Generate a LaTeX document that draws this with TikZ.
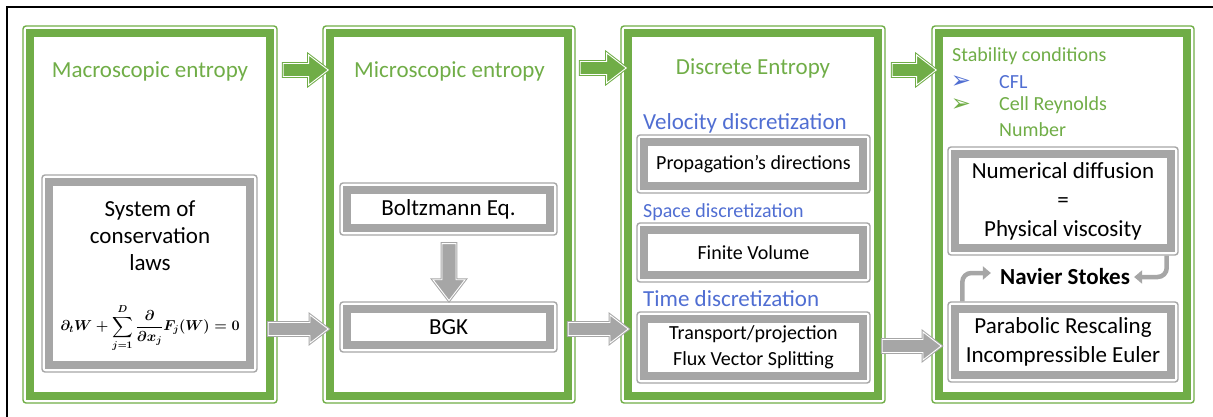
\documentclass[tikz,border=0pt]{standalone}
\usepackage{exscale}
\usepackage{fontspec}
\setmainfont{Carlito}
\newfontfamily\dejavu{DejaVu Sans}
\usetikzlibrary{calc,shapes.arrows,arrows.meta}
\definecolor{gr}{HTML}{70AD47}
\definecolor{gy}{HTML}{A6A6A6}
\definecolor{bl}{RGB}{80,110,210}
\newcommand\bandbox[4]{\draw[line width=#3,draw=#4] ($(#1.north west)+(#2,#2)$) rectangle ($(#1.south east)+(-#2,-#2)$);}
\newcommand\eqnfml{\mbox{\boldmath$\displaystyle \partial_t W+\sum_{j=1}^{D}\frac{\partial}{\partial x_j}F_j(W)=0$}}
\begin{document}
\begin{tikzpicture}[x=1pt,y=-1pt,
  panel/.style={draw=gr, line width=1.4pt, rounded corners=3pt, inner sep=0pt},
  gbox/.style={draw=gy, line width=1.4pt, rounded corners=3pt, inner sep=0pt, align=center, font=\fontsize{20}{26}\selectfont},
  bigbox/.style={gbox, font=\fontsize{23}{29}\selectfont},
  ttl/.style={text=gr, font=\fontsize{23}{28}\selectfont, inner sep=0pt},
  subt/.style={text=bl, anchor=west, inner sep=0pt},
  body/.style={font=\fontsize{23}{27}\selectfont, align=center, inner sep=0pt},
  blk/.style={single arrow, single arrow head indent=0pt, single arrow tip angle=75, line width=1pt, double=white, double distance=0.9pt},
  garw/.style={blk, fill=gr, draw=gr, inner xsep=0pt, inner ysep=6pt},
  yarw/.style={blk, fill=gy, draw=gy, inner xsep=0pt, inner ysep=6pt},
  curv/.style={draw=gy, line width=4.5pt, rounded corners=9pt, -{Triangle[length=8pt,width=13pt]}},
]
\useasboundingbox (0,0) rectangle (1213,417);
% outer frame
\draw[line width=2pt] (7,417) -- (7,7) -- (1213,7);

% panels
\node[panel, minimum width=254pt, minimum height=377pt] (p1) at (150,214.5) {};
\node[panel, minimum width=252pt, minimum height=377pt] (p2) at (449,214.5) {};
\node[panel, minimum width=264pt, minimum height=377pt] (p3) at (753,214.5) {};
\node[panel, minimum width=262pt, minimum height=377pt] (p4) at (1063,214.5) {};
\bandbox{p1}{8}{8pt}{gr}
\bandbox{p2}{8}{8pt}{gr}
\bandbox{p3}{8}{8pt}{gr}
\bandbox{p4}{8}{8pt}{gr}

% titles
\node[ttl] (t1) at (150,71) {Macroscopic entropy};
\node[ttl] (t2) at (449.5,71) {Microscopic entropy};
\node[ttl] (t3) at (753,68) {Discrete Entropy};

% panel 1
\node[gbox, minimum width=215pt, minimum height=197pt] (g1) at (149.5,273.5) {};
\bandbox{g1}{7.75}{7.5pt}{gy}
\node[body] (sys) at (150,236) {System of\\conservation\\laws};
\node[inner sep=0pt, font=\fontsize{14}{17}\selectfont] (eq) at (150,328) {\eqnfml};

% panel 2
\node[bigbox, minimum width=217pt, minimum height=52pt] (bz) at (448.5,209) {Boltzmann Eq.};
\bandbox{bz}{7.75}{7.5pt}{gy}
\node[bigbox, minimum width=217pt, minimum height=50pt] (bgk) at (448.5,327) {BGK};
\bandbox{bgk}{7.75}{7.5pt}{gy}
\node[blk, fill=gy, draw=gy, inner xsep=6.5pt, inner ysep=0pt, minimum height=57pt, minimum width=31pt, single arrow head extend=9pt, shape border rotate=270] (d1) at (449,267.5) {};

% panel 3
\node[subt, font=\fontsize{23}{28}\selectfont] (vd) at (643,123) {Velocity discretization};
\node[gbox, minimum width=233pt, minimum height=58pt] (pd) at (753.5,164) {Propagation’s directions};
\bandbox{pd}{7.75}{7.5pt}{gy}
\node[subt, font=\fontsize{20}{24}\selectfont] (sd) at (643,212) {Space discretization};
\node[gbox, minimum width=233pt, minimum height=59pt] (fv) at (753.5,252.5) {Finite Volume};
\bandbox{fv}{7.75}{7.5pt}{gy}
\node[subt, font=\fontsize{23}{28}\selectfont] (td) at (643,299) {Time discretization};
\node[gbox, minimum width=233pt, minimum height=71pt] (tp) at (753.5,347.5) {Transport/projection\\Flux Vector Splitting};
\bandbox{tp}{7.75}{7.5pt}{gy}

% panel 4
\node[text=gr, anchor=west, inner sep=0pt, font=\fontsize{20}{24}\selectfont] (sc) at (952,56) {Stability conditions};
\node[text=bl, inner sep=0pt, font=\dejavu\fontsize{24}{26}\selectfont] (b1) at (961,82) {➢};
\node[text=gr, inner sep=0pt, font=\dejavu\fontsize{24}{26}\selectfont] (b2) at (961,105) {➢};
\node[text=bl, anchor=west, inner sep=0pt, font=\fontsize{20}{24}\selectfont] (cfl) at (999,82) {CFL};
\node[text=gr, anchor=west, inner sep=0pt, font=\fontsize{20}{24}\selectfont] (cr) at (999,105) {Cell Reynolds};
\node[text=gr, anchor=west, inner sep=0pt, font=\fontsize{20}{24}\selectfont] (num) at (999,130) {Number};
\node[bigbox, minimum width=230pt, minimum height=108pt] (nd) at (1063,201) {Numerical diffusion\\=\\Physical viscosity};
\bandbox{nd}{7.75}{7.5pt}{gy}
\node[font=\bfseries\fontsize{23}{28}\selectfont, inner sep=4pt] (ns) at (1065,277) {Navier Stokes};
\node[bigbox, minimum width=230pt, minimum height=80pt] (pr) at (1063,342) {Parabolic Rescaling\\Incompressible Euler};
\bandbox{pr}{7.75}{7.5pt}{gy}
\draw[curv] ($(nd.south east)+(-12,0)$) |- ($(ns.east)+(0,0)$);
\draw[curv] ($(pr.north west)+(15,0)$) |- ($(ns.west)+(-5,-4)$);

% block arrows between panels
\node[garw, minimum height=45pt, minimum width=29pt, single arrow head extend=8.5pt] (a1) at (301.5,70) {};
\node[garw, minimum height=46pt, minimum width=29pt, single arrow head extend=8.5pt] (a2) at (599,68) {};
\node[garw, minimum height=44pt, minimum width=29pt, single arrow head extend=8.5pt] (a3) at (910,70) {};
\node[yarw, minimum height=60pt, minimum width=27pt, single arrow head extend=7.5pt] (c1) at (294,329) {};
\node[yarw, minimum height=60pt, minimum width=27pt, single arrow head extend=7.5pt] (c2) at (594,329) {};
\node[yarw, minimum height=59pt, minimum width=27pt, single arrow head extend=7.5pt] (c3) at (907.5,346) {};
\end{tikzpicture}
\end{document}
